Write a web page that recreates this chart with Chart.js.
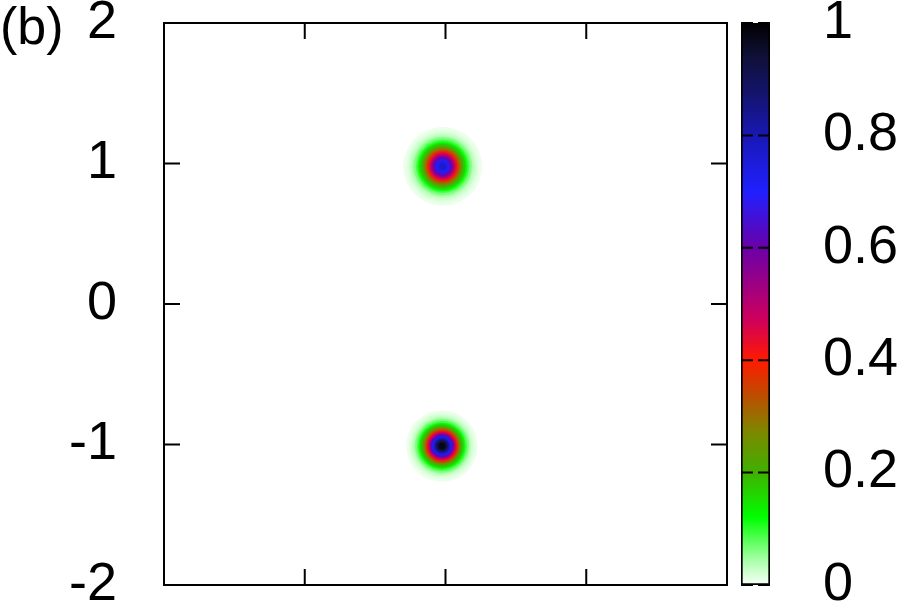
<!DOCTYPE html>
<html>
<head>
<meta charset="utf-8">
<script src="https://cdn.jsdelivr.net/npm/chart.js@4.4.0/dist/chart.umd.min.js"></script>
<style>
body { margin: 0; background: #fff; }
#wrap { position: relative; width: 900px; height: 607px; overflow: hidden; }
#map { position: absolute; left: 0; top: 0; }
#bar { position: absolute; left: 741px; top: 0; }
#tag { position: absolute; left: 0; top: 0; font: 52px/52px "Liberation Sans", Arial, sans-serif; color: #000; }
</style>
</head>
<body>
<div id="wrap">
  <canvas id="map" width="740" height="607"></canvas>
  <canvas id="bar" width="159" height="607"></canvas>
  <div id="tag">(b)</div>
</div>
<script>
// blob centres and peak values
const blobX = [-0.02, -0.025];
const blobY = [0.98, -1.01];
const blobPeak = [0.78, 1.0];
// contour levels, and the radius (axis units) where each blob falls to that level
const levels = [0.005, 0.01, 0.015, 0.02, 0.03, 0.04, 0.05, 0.075, 0.10, 0.125, 0.15, 0.20, 0.25, 0.30, 0.35, 0.40, 0.45, 0.50, 0.55, 0.60, 0.65, 0.70, 0.75, 0.80, 0.85, 0.90, 0.95];
const radiiTop = [0.280, 0.260, 0.247, 0.238, 0.225, 0.214, 0.206, 0.190, 0.178, 0.168, 0.160, 0.145, 0.133, 0.122, 0.111, 0.102, 0.092, 0.083, 0.074, 0.064, 0.053, 0.041, 0.025, null, null, null, null];
const radiiBottom = [0.254, 0.237, 0.226, 0.218, 0.207, 0.198, 0.191, 0.178, 0.167, 0.159, 0.152, 0.140, 0.130, 0.121, 0.113, 0.106, 0.099, 0.092, 0.085, 0.079, 0.072, 0.066, 0.059, 0.052, 0.044, 0.036, 0.025];

const yTicks = [-2, -1, 0, 1, 2];
const xTicks = [-1, 0, 1];
const cbTicks = [0, 0.2, 0.4, 0.6, 0.8, 1];

// palette
const palStops = [0, 0.04, 0.12, 0.2, 0.27, 0.34, 0.4, 0.47, 0.53, 0.6, 0.7, 0.8, 0.87, 0.94, 1];
const palColors = [[248,255,248],[176,255,176],[0,255,0],[64,176,0],[122,138,0],[192,74,0],[255,26,0],[208,0,90],[160,0,128],[106,0,168],[32,32,255],[24,24,180],[20,20,112],[16,16,56],[0,0,0]];

const FONT = { family: '"Liberation Sans", Arial, sans-serif', size: 54 };

function rgb(c) { return 'rgb(' + c[0] + ',' + c[1] + ',' + c[2] + ')'; }

function palette(v) {
    for (let i = 1; i < palStops.length; i++) {
        if (v <= palStops[i]) {
            const t = (v - palStops[i - 1]) / (palStops[i] - palStops[i - 1]);
            const a = palColors[i - 1], b = palColors[i];
            return rgb([0, 1, 2].map(j => Math.round(a[j] + (b[j] - a[j]) * t)));
        }
    }
    return rgb(palColors[palColors.length - 1]);
}

// one filled disc per level, biggest first
const rings = [];
[radiiTop, radiiBottom].forEach((radii, b) => {
    radii.forEach((r, k) => {
        if (r === null) return;
        const next = (k + 1 < radii.length && radii[k + 1] !== null) ? levels[k + 1] : blobPeak[b];
        rings.push({ x: blobX[b], y: blobY[b], r: r, v: (levels[k] + next) / 2 });
    });
});

function ringRadius(ctx) {
    if (!ctx.raw) return 0;
    const s = ctx.chart.scales.x;
    return s.getPixelForValue(ctx.raw.x + ctx.raw.r) - s.getPixelForValue(ctx.raw.x);
}

const framePlugin = {
    id: 'frame',
    afterDatasetsDraw(chart) {
        const { ctx, chartArea: a, scales } = chart;
        ctx.save();
        ctx.strokeStyle = '#000';
        ctx.lineWidth = 2;
        ctx.strokeRect(a.left, a.top, a.right - a.left, a.bottom - a.top);
        ctx.beginPath();
        xTicks.forEach(v => {
            const px = scales.x.getPixelForValue(v);
            ctx.moveTo(px, a.bottom); ctx.lineTo(px, a.bottom - 16);
            ctx.moveTo(px, a.top); ctx.lineTo(px, a.top + 16);
        });
        yTicks.forEach(v => {
            const py = scales.y.getPixelForValue(v);
            ctx.moveTo(a.left, py); ctx.lineTo(a.left + 16, py);
            ctx.moveTo(a.right, py); ctx.lineTo(a.right - 16, py);
        });
        ctx.stroke();
        ctx.restore();
    }
};

new Chart(document.getElementById('map'), {
    type: 'scatter',
    data: {
        datasets: [{
            data: rings,
            pointStyle: 'circle',
            pointBorderWidth: 0,
            pointRadius: ringRadius,
            pointHoverRadius: ringRadius,
            pointBackgroundColor: ctx => ctx.raw ? palette(ctx.raw.v) : '#fff'
        }]
    },
    options: {
        responsive: false,
        animation: false,
        events: [],
        layout: { padding: { left: 0, top: 23, right: 13, bottom: 22 } },
        scales: {
            x: { type: 'linear', min: -2, max: 2, display: false },
            y: {
                type: 'linear', min: -2, max: 2,
                afterBuildTicks: s => { s.ticks = yTicks.map(v => ({ value: v })); },
                afterFit: s => { s.width = 164; s.paddingTop = 0; s.paddingBottom = 0; },
                ticks: { font: FONT, color: '#000', padding: 47, callback: v => String(v) },
                grid: { display: false, drawTicks: false },
                border: { display: false }
            }
        },
        plugins: { legend: { display: false }, tooltip: { enabled: false } }
    },
    plugins: [framePlugin]
});

const cbPlugin = {
    id: 'cbticks',
    afterDatasetsDraw(chart) {
        const { ctx, chartArea: a, scales } = chart;
        ctx.save();
        ctx.strokeStyle = '#000';
        ctx.lineWidth = 2;
        ctx.beginPath();
        cbTicks.forEach(v => {
            const py = scales.y.getPixelForValue(v);
            ctx.moveTo(a.left, py); ctx.lineTo(a.left + 12, py);
            ctx.moveTo(a.right, py); ctx.lineTo(a.right - 12, py);
        });
        ctx.stroke();
        ctx.restore();
    }
};

new Chart(document.getElementById('bar'), {
    type: 'bar',
    data: {
        labels: [''],
        datasets: [{
            data: [[0, 1]],
            backgroundColor: ctx => {
                const c = ctx.chart;
                if (!c.chartArea) return '#fff';
                const ys = c.scales.y;
                const g = c.ctx.createLinearGradient(0, ys.getPixelForValue(0), 0, ys.getPixelForValue(1));
                palStops.forEach((s, i) => g.addColorStop(s, rgb(palColors[i])));
                return g;
            },
            borderColor: '#000',
            borderWidth: 2,
            borderSkipped: false,
            barPercentage: 1,
            categoryPercentage: 1
        }]
    },
    options: {
        responsive: false,
        animation: false,
        events: [],
        layout: { padding: { left: 0, top: 23, right: 0, bottom: 22 } },
        scales: {
            x: { display: false },
            y: {
                position: 'right', min: 0, max: 1,
                afterBuildTicks: s => { s.ticks = cbTicks.map(v => ({ value: v })); },
                afterFit: s => { s.width = 130; s.paddingTop = 0; s.paddingBottom = 0; },
                ticks: { font: FONT, color: '#000', padding: 53, callback: v => String(v) },
                grid: { display: false, drawTicks: false },
                border: { display: false }
            }
        },
        plugins: { legend: { display: false }, tooltip: { enabled: false } }
    },
    plugins: [cbPlugin]
});
</script>
</body>
</html>
